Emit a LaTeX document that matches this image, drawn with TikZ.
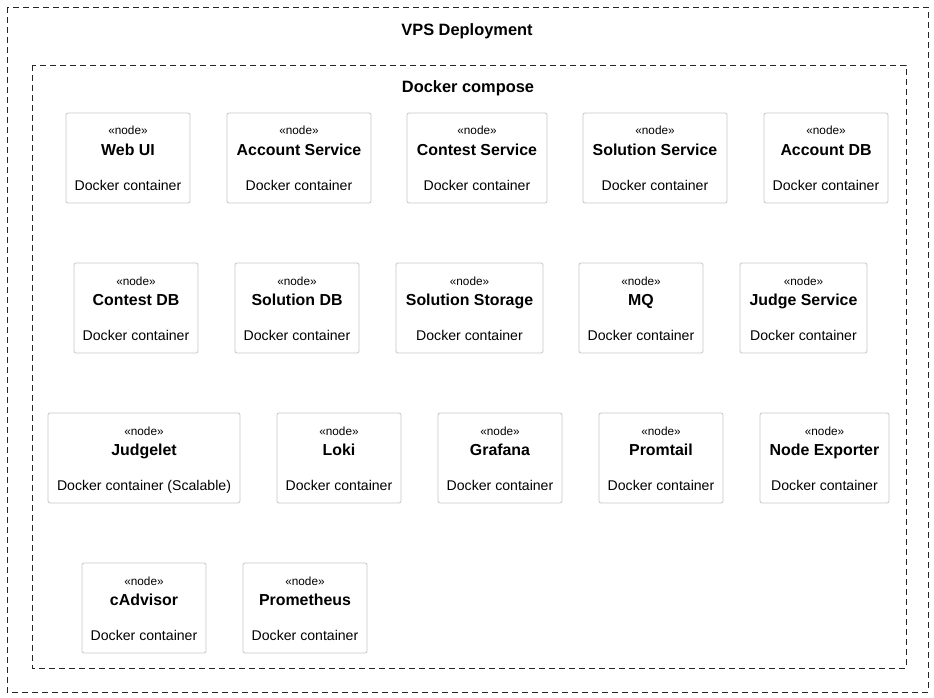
\documentclass[tikz,border=0pt]{standalone}
\usepackage{fontspec}
\setmainfont{Liberation Sans}
\begin{document}
\begin{tikzpicture}[x=1pt,y=-1pt,
  frame/.style={draw=black!85, line width=0.9pt, dash pattern=on 6pt off 4pt},
  dbox/.style={draw=black!22, line width=0.8pt, rounded corners=2pt, fill=white},
  stereo/.style={font=\fontsize{11.8}{14}\selectfont, inner sep=0pt, anchor=base},
  ttl/.style={font=\fontsize{15.9}{19}\selectfont\bfseries, inner sep=0pt, anchor=base},
  sub/.style={font=\fontsize{14.1}{17}\selectfont, inner sep=0pt, anchor=base},
  head/.style={font=\fontsize{16.4}{19}\selectfont\bfseries, inner sep=0pt, anchor=base}]
\useasboundingbox (0,0) rectangle (934,698);
\draw[frame] (7,7) rectangle (928,692);
\node[head] (vps) at (467,36) {VPS Deployment};
\draw[frame] (32,65) rectangle (906,668);
\node[head] (dc) at (468,93) {Docker compose};
\newcommand\dbx[7]{% name x1 x2 top title sub
  \draw[dbox] (#2,#4) rectangle (#3,#4+90);
  \node[stereo] (#1s) at ({(#2+#3)/2},#4+22) {«node»};
  \node[ttl] (#1t) at ({(#2+#3)/2},#4+42.5) {#5};
  \node[sub] (#1d) at ({(#2+#3)/2},#4+77) {#6};}
\dbx{webui}{66}{190}{113}{Web UI}{Docker container}{}
\dbx{accsvc}{227}{371}{113}{Account Service}{Docker container}{}
\dbx{consvc}{407}{547}{113}{Contest Service}{Docker container}{}
\dbx{solsvc}{583}{727}{113}{Solution Service}{Docker container}{}
\dbx{accdb}{764}{888}{113}{Account DB}{Docker container}{}
\dbx{condb}{74}{198}{263}{Contest DB}{Docker container}{}
\dbx{soldb}{235}{359}{263}{Solution DB}{Docker container}{}
\dbx{solst}{396}{543}{263}{Solution Storage}{Docker container}{}
\dbx{mq}{579}{703}{263}{MQ}{Docker container}{}
\dbx{judge}{740}{867}{263}{Judge Service}{Docker container}{}
\dbx{jlet}{48}{240}{413}{Judgelet}{Docker container (Scalable)}{}
\dbx{loki}{277}{401}{413}{Loki}{Docker container}{}
\dbx{graf}{438}{562}{413}{Grafana}{Docker container}{}
\dbx{promt}{599}{723}{413}{Promtail}{Docker container}{}
\dbx{nexp}{760}{889}{413}{Node Exporter}{Docker container}{}
\dbx{cadv}{82}{206}{563}{cAdvisor}{Docker container}{}
\dbx{prom}{243}{367}{563}{Prometheus}{Docker container}{}
\end{tikzpicture}
\end{document}
